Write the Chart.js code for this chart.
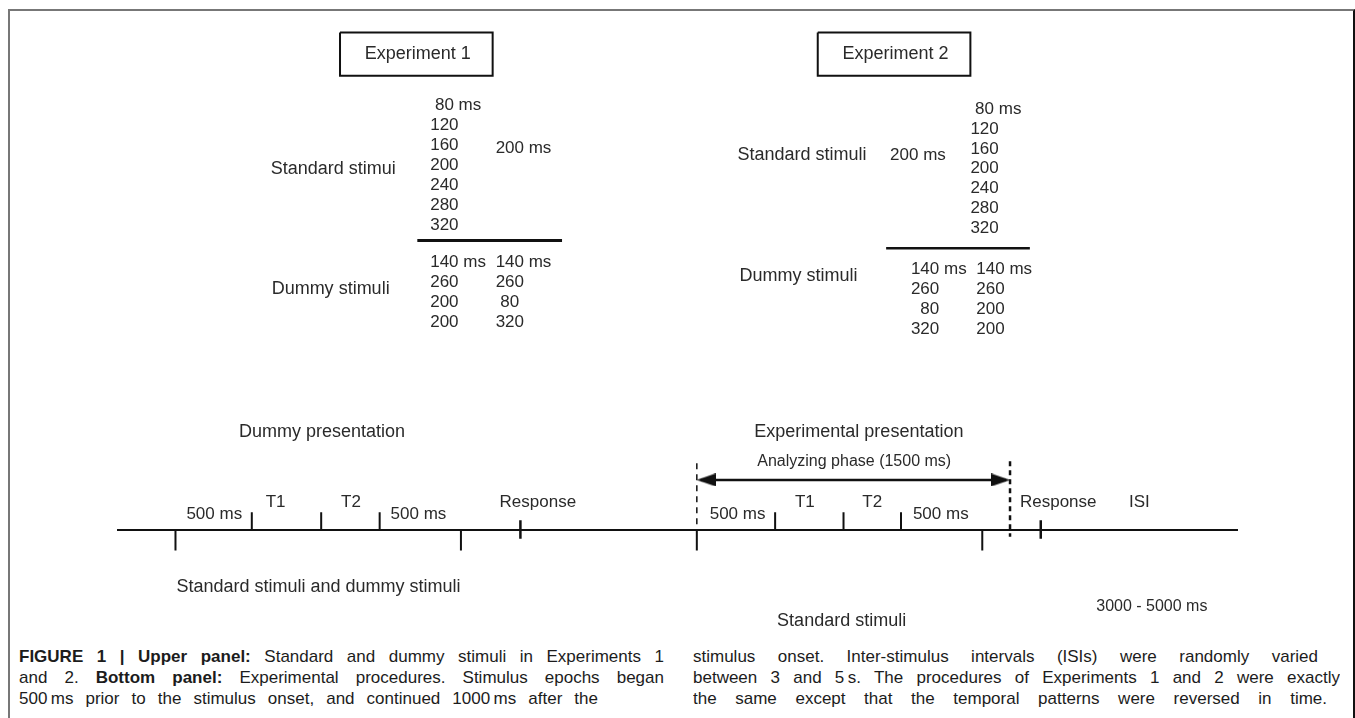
<!DOCTYPE html>
<html>
<head>
<meta charset="utf-8">
<script src="https://cdn.jsdelivr.net/npm/chart.js@4.4.1/dist/chart.umd.min.js"></script>
<style>
  html, body { margin: 0; padding: 0; background: #fff; }
  body { width: 1355px; height: 718px; position: relative; overflow: hidden; }
  #frame {
    position: absolute; left: 8px; top: 9px; width: 1347px; height: 720px; box-sizing: border-box;
    border-top: 2px solid #777; border-left: 2px solid #777; border-right: 2px solid #111;
  }
  #diagram { position: absolute; left: 0; top: 0; }
  .caption {
    position: absolute; top: 646px;
    font-family: "Liberation Sans", Arial, sans-serif;
    font-size: 17px; line-height: 21px; color: #1c1c1c;
  }
  .caption div { white-space: nowrap; text-align: justify; text-align-last: justify; overflow: hidden; }
</style>
</head>
<body>
<div id="frame"></div>
<canvas id="diagram" width="1355" height="640"></canvas>

<div class="caption" style="left:19px">
  <div style="width:645px"><b>FIGURE 1 | Upper panel:</b> Standard and dummy stimuli in Experiments 1</div>
  <div style="width:645px">and 2. <b>Bottom panel:</b> Experimental procedures. Stimulus epochs began</div>
  <div style="width:579px">500&#8201;ms prior to the stimulus onset, and continued 1000&#8201;ms after the</div>
</div>
<div class="caption" style="left:693px">
  <div style="width:625px">stimulus onset. Inter-stimulus intervals (ISIs) were randomly varied</div>
  <div style="width:647px">between 3 and 5&#8201;s. The procedures of Experiments 1 and 2 were exactly</div>
  <div style="width:634px">the same except that the temporal patterns were reversed in time.</div>
</div>

<script>
// --- upper panel content
const experiments = ['Experiment 1', 'Experiment 2'];
const rowNames1 = ['Standard stimui', 'Dummy stimuli'];
const rowNames2 = ['Standard stimuli', 'Dummy stimuli'];
const standardSet = [' 80 ms', '120', '160', '200', '240', '280', '320'];
const fixedStandard = '200 ms';
const dummyExp1 = [['140 ms', '140 ms'], ['260', '260'], ['200', ' 80'], ['200', '320']];
const dummyExp2 = [['140 ms', '140 ms'], ['260', '260'], ['  80', '200'], ['320', '200']];

// --- lower panel: time line marks (diagram units along the line)
const timelineSpan = [112, 1243];
const onsetTicks = [248, 318, 377, 776, 845, 903];
const epochTicks = [171, 459, 697, 985];
const responseTicks = [519, 1044];
const phaseBounds = [697, 1013];
const phaseNames = ['Dummy presentation', 'Experimental presentation'];
const stepLabels = ['500 ms', 'T1', 'T2', '500 ms', 'Response'];
const stimulusNames = ['Standard stimuli and dummy stimuli', 'Standard stimuli'];

const INK = '#111';
const TXT = '#2a2a2a';
const FONT = '"Liberation Sans", Arial, sans-serif';

function arrowHead() {
  const c = document.createElement('canvas');
  c.width = 19; c.height = 13;
  const g = c.getContext('2d');
  g.fillStyle = INK;
  g.beginPath(); g.moveTo(0, 0); g.lineTo(19, 6.5); g.lineTo(0, 13); g.closePath(); g.fill();
  return c;
}

function seg(points, width, dash) {
  return {
    data: points.map(p => ({ x: p[0], y: p[1] })),
    showLine: true, borderColor: INK, borderWidth: width || 2,
    borderDash: dash || [], pointRadius: 0, fill: false
  };
}

const datasets = [];
// experiment boxes
[[337, 491], [819, 973]].forEach(([a, b]) => {
  datasets.push(seg([[a, 27], [b, 27], [b, 71], [a, 71], [a, 27]], 2));
});
// separators
datasets.push(seg([[415, 239], [561, 239]], 3));
datasets.push(seg([[888, 247], [1033, 247]], 2.5));
// time line and ticks
datasets.push(seg([[timelineSpan[0], 534], [timelineSpan[1], 534]], 2));
onsetTicks.forEach(x => datasets.push(seg([[x, 516], [x, 534]], 2)));
epochTicks.forEach(x => datasets.push(seg([[x, 534], [x, 555]], 2)));
responseTicks.forEach(x => datasets.push(seg([[x, 524], [x, 543]], 2.5)));
datasets.push(seg([[phaseBounds[0], 466], [phaseBounds[0], 534]], 1.5, [6, 5]));
datasets.push(seg([[phaseBounds[1], 464], [phaseBounds[1], 541]], 2.5, [5, 4]));
// analyzing phase arrow
datasets.push(seg([[phaseBounds[0] + 4, 483], [phaseBounds[1] - 4, 483]], 2.5));
datasets.push({
  data: [{ x: phaseBounds[0] + 9.5, y: 483 }, { x: phaseBounds[1] - 9.5, y: 483 }],
  showLine: false, pointStyle: arrowHead(), pointRadius: 5, pointRotation: [180, 0]
});

// text labels
const labels = [];
function put(text, x, y, size) { labels.push({ text, x, y, size: size || 18 }); }

put(experiments[0], 362, 49);
put(experiments[1], 844, 49);

put(rowNames1[0], 267, 166);
standardSet.forEach((t, i) => put(t, 428, 101 + i * 20.5, 17));
put(fixedStandard, 494, 145, 17);
put(rowNames1[1], 268, 288);
dummyExp1.forEach((r, i) => { put(r[0], 428, 261 + i * 20.5, 17); put(r[1], 494, 261 + i * 20.5, 17); });

put(rowNames2[0], 738, 152);
put(fixedStandard, 892, 152, 17);
standardSet.forEach((t, i) => put(t, 973, 105 + i * 20.3, 17));
put(rowNames2[1], 740, 275);
dummyExp2.forEach((r, i) => { put(r[0], 913, 268 + i * 20.4, 17); put(r[1], 979, 268 + i * 20.4, 17); });

put(phaseNames[0], 235, 434);
put(phaseNames[1], 755, 434);
put('Analyzing phase (1500 ms)', 758, 464, 16);
[[182, 262, 338, 388, 498], [710, 796, 864, 915, 1023]].forEach(xs => {
  stepLabels.forEach((t, i) => put(t, xs[i], t[0] === '5' ? 518 : 506, 17));
});
put('ISI', 1133, 506, 17);
put(stimulusNames[0], 172, 592);
put(stimulusNames[1], 778, 627);
put('3000 - 5000 ms', 1100, 612, 16);

const textPlugin = {
  id: 'diagramText',
  afterDatasetsDraw(chart) {
    const { ctx, scales } = chart;
    ctx.save();
    ctx.fillStyle = TXT;
    ctx.textBaseline = 'middle';
    ctx.textAlign = 'left';
    labels.forEach(l => {
      ctx.font = l.size + 'px ' + FONT;
      ctx.fillText(l.text, scales.x.getPixelForValue(l.x), scales.y.getPixelForValue(l.y));
    });
    ctx.restore();
  }
};

new Chart(document.getElementById('diagram'), {
  type: 'scatter',
  data: { datasets },
  options: {
    responsive: false,
    animation: false,
    layout: { padding: 0 },
    plugins: { legend: { display: false }, tooltip: { enabled: false } },
    scales: {
      x: { type: 'linear', min: 0, max: 1355, display: false },
      y: { type: 'linear', min: 0, max: 640, reverse: true, display: false }
    }
  },
  plugins: [textPlugin]
});
</script>
</body>
</html>
